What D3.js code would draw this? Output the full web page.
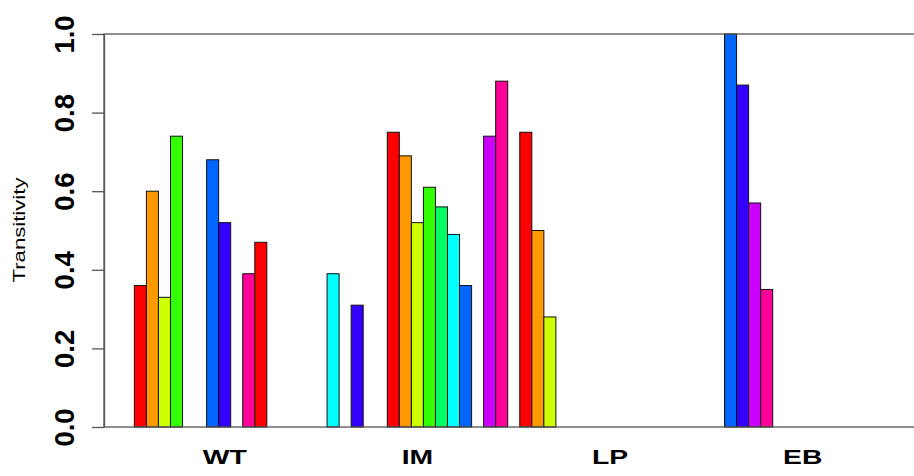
<!DOCTYPE html>
<html>
<head>
<meta charset="utf-8">
<script src="https://cdn.jsdelivr.net/npm/d3@7"></script>
<style>
  body { margin: 0; background: #fff; }
  text { font-family: "Liberation Sans", Arial, Helvetica, sans-serif; }
</style>
</head>
<body>
<script>
// groups and their bar values (15 bars per group, zeros are empty slots)
var groups = ["WT", "IM", "LP", "EB"];
var wtValues = [0.36, 0.60, 0.33, 0.74, 0, 0, 0.68, 0.52, 0, 0.39, 0.47, 0, 0, 0, 0];
var imValues = [0.39, 0, 0.31, 0, 0, 0.75, 0.69, 0.52, 0.61, 0.56, 0.49, 0.36, 0, 0.74, 0.88];
var lpValues = [0.75, 0.50, 0.28, 0, 0, 0, 0, 0, 0, 0, 0, 0, 0, 0, 0];
var ebValues = [0, 1.00, 0.87, 0.57, 0.35, 0, 0, 0, 0, 0, 0, 0, 0, 0, 0];
var yTicks = [0, 0.2, 0.4, 0.6, 0.8, 1.0];
// rainbow(10), recycled over all bars
var palette = ["#FF0000", "#FF9900", "#CCFF00", "#33FF00", "#00FF66",
               "#00FFFF", "#0066FF", "#3300FF", "#CC00FF", "#FF0099"];

var allValues = [wtValues, imValues, lpValues, ebValues];
var nRows = wtValues.length;

var W = 914, H = 476;
var plotTop = 34, plotBottom = 427;
var plotLeft = 104, plotRight = 923.5;   // right side runs off the picture

var svg = d3.select("body").append("svg")
    .attr("width", W)
    .attr("height", H);

// R style: 4% padding on each side of the bar range
var span = plotRight - plotLeft;
var barLeft = plotLeft + span * 0.04 / 1.08;
var barRight = plotRight - span * 0.04 / 1.08;

var x0 = d3.scaleBand()
    .domain(groups)
    .range([barLeft, barRight])
    .paddingInner(1 / 16)
    .paddingOuter(0);

var x1 = d3.scaleBand()
    .domain(d3.range(nRows))
    .range([0, x0.bandwidth()])
    .padding(0);

var y = d3.scaleLinear()
    .domain([0, 1])
    .range([plotBottom, plotTop]);

var bars = [];
allValues.forEach(function(vals, g) {
  vals.forEach(function(v, i) {
    bars.push({group: groups[g], row: i, value: v, color: palette[(g * nRows + i) % palette.length]});
  });
});

svg.append("g")
  .selectAll("rect")
  .data(bars.filter(function(d) { return d.value > 0; }))
  .enter().append("rect")
    .attr("x", function(d) { return x0(d.group) + x1(d.row); })
    .attr("y", function(d) { return y(d.value); })
    .attr("width", x1.bandwidth())
    .attr("height", function(d) { return y(0) - y(d.value); })
    .attr("fill", function(d) { return d.color; })
    .attr("stroke", "#111")
    .attr("stroke-width", 1);

// box
svg.append("rect")
    .attr("x", plotLeft)
    .attr("y", plotTop)
    .attr("width", plotRight - plotLeft)
    .attr("height", plotBottom - plotTop)
    .attr("fill", "none")
    .attr("stroke", "#555")
    .attr("stroke-width", 1.3);

// y axis
var yAxis = svg.append("g")
    .attr("transform", "translate(" + plotLeft + ",0)")
    .call(d3.axisLeft(y).tickValues(yTicks).tickFormat(d3.format(".1f"))
          .tickSize(12).tickSizeOuter(0));

yAxis.select(".domain").attr("stroke", "#555").attr("stroke-width", 1.3);
yAxis.selectAll(".tick line").attr("stroke", "#555").attr("stroke-width", 1.3);
yAxis.selectAll(".tick text")
    .attr("x", null).attr("dy", null)
    .attr("transform", "translate(-30,0) rotate(-90)")
    .attr("text-anchor", "middle")
    .attr("fill", "#000")
    .style("font-size", "27.5px")
    .style("font-weight", "bold");

// y label
svg.append("text")
    .attr("transform", "translate(24.5,230) rotate(-90)")
    .attr("text-anchor", "middle")
    .attr("textLength", 105)
    .attr("lengthAdjust", "spacingAndGlyphs")
    .style("font-size", "16px")
    .text("Transitivity");

// group labels
svg.append("g")
  .selectAll("text")
  .data(groups)
  .enter().append("text")
    .attr("transform", function(d) {
      return "translate(" + (x0(d) + x0.bandwidth() / 2) + ",464) scale(1.35,1)";
    })
    .attr("text-anchor", "middle")
    .style("font-size", "21px")
    .style("font-weight", "bold")
    .text(function(d) { return d; });
</script>
</body>
</html>
